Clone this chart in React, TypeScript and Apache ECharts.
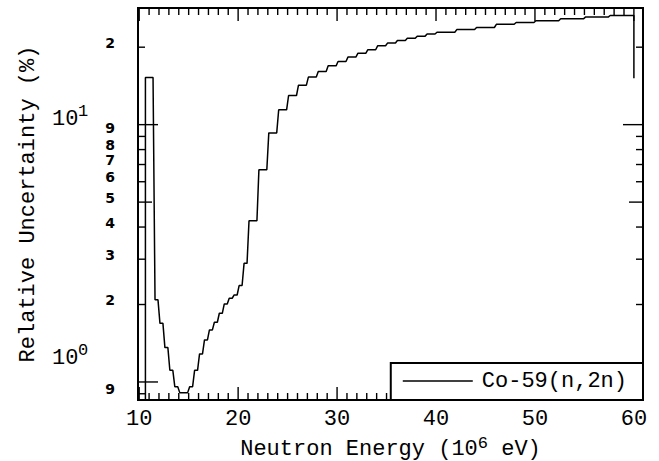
import React, { useEffect, useRef } from 'react';
import * as echarts from 'echarts';

// ---- data ----
const seriesName = 'Co-59(n,2n)';
// energy bin edges (MeV)
const binEdges = [
  10.63, 11.5, 12, 12.5, 13, 13.5, 14, 14.5, 15, 15.5, 16, 16.5, 17, 17.5, 18, 18.5, 19, 19.5, 20, 20.5,
  21, 22, 23, 24, 25, 26, 27, 28, 29, 30, 31, 32, 33, 34, 35, 36, 37, 38, 39, 40,
  42, 44, 46, 48, 50, 52.5, 55, 57.5, 60,
];
// relative uncertainty (%) per bin
const uncertainty = [
  15.24, 2.085, 1.69, 1.36, 1.11, 0.959, 0.909, 0.909, 0.959, 1.11, 1.285, 1.457, 1.593, 1.706, 1.849, 2.01,
  2.115, 2.178, 2.37, 2.89, 4.23, 6.68, 9.29, 11.42, 12.98, 14.24, 15.3, 16.09, 16.93, 17.59, 18.3, 18.93,
  19.54, 20.25, 20.75, 21.23, 21.65, 22.08, 22.5, 22.85, 23.41, 23.85, 24.55, 24.94, 25.33, 25.78, 26.18, 26.56,
];
const startValue = 0.5; // below the axis: curve rises from the bottom at threshold
const endValue = 15.16; // last point at 60 MeV

// axes
const xMin = 9.88;
const xMax = 60.92;
const yMin = 0.851;
const yMax = 28.4;
const xTickValues = Array.from({ length: 51 }, (_, i) => 10 + i);
const xMajorStep = 10;
const yTickValues = [0.9, 1, 2, 3, 4, 5, 6, 7, 8, 9, 10, 20];
const yMinorLabelValues = [0.9, 2, 3, 4, 5, 6, 7, 8, 9, 20];
const yMinorLabelTexts = ['9', '2', '3', '4', '5', '6', '7', '8', '9', '2'];
const yDecadeValues = [1, 10];
const yDecadeExponents = ['0', '1'];

const MONO = '"Liberation Mono", "DejaVu Sans Mono", monospace';
const RISER_HALF = 0.1;

function buildLine(): number[][] {
  const pts: number[][] = [[binEdges[0], startValue]];
  uncertainty.forEach((v, i) => {
    const a = i === 0 ? binEdges[0] : binEdges[i] + RISER_HALF;
    const b = i === uncertainty.length - 1 ? binEdges[i + 1] : binEdges[i + 1] - RISER_HALF;
    pts.push([a, v], [b, v]);
  });
  pts.push([binEdges[binEdges.length - 1], endValue]);
  return pts;
}

export default function App() {
  const ref = useRef<HTMLDivElement>(null);
  useEffect(() => {
    const chart = echarts.init(ref.current!, null, { renderer: 'svg' });
    const tickStyle = { stroke: '#000', lineWidth: 1.4 };
    const option: any = {
      animation: false,
      backgroundColor: '#fff',
      grid: {
        left: 138, right: 16, top: 8, bottom: 61,
        outerBoundsMode: 'none', containLabel: false,
        show: true, borderColor: '#000', borderWidth: 2, backgroundColor: 'transparent',
      },
      legend: {
        data: [{ name: seriesName, icon: 'path://M0,0 L70,0 L70,1.3 L0,1.3 Z' }],
        right: 16, bottom: 61, z: 20,
        orient: 'horizontal',
        padding: [7, 16, 8, 12],
        borderColor: '#000', borderWidth: 2, backgroundColor: '#fff',
        itemWidth: 70, itemHeight: 1.3,
        itemStyle: { color: '#000', borderWidth: 0 },
        textStyle: { fontFamily: MONO, fontSize: 22, color: '#000', padding: [0, 0, 0, 4] },
        selectedMode: false,
      },
      xAxis: {
        type: 'value', min: xMin, max: xMax, splitNumber: 5,
        axisLine: { show: false }, axisTick: { show: false }, splitLine: { show: false },
        axisLabel: {
          margin: 8, fontFamily: MONO, fontSize: 22, color: '#000',
          showMinLabel: false, showMaxLabel: false,
          formatter: (v: number) => (Math.abs(v % xMajorStep) < 1e-6 ? String(v) : ''),
        },
        name: 'Neutron Energy (10{sup|6} eV)',
        nameLocation: 'middle', nameGap: 33,
        nameTextStyle: {
          fontFamily: MONO, fontSize: 22, color: '#000', lineHeight: 24,
          rich: { sup: { fontFamily: MONO, fontSize: 17, lineHeight: 17, padding: [0, 0, 12, 0], color: '#000' } },
        },
      },
      yAxis: {
        type: 'log', logBase: 10, min: yMin, max: yMax,
        axisLine: { show: false }, axisTick: { show: false }, splitLine: { show: false },
        axisLabel: { show: false },
        name: 'Relative Uncertainty (%)',
        nameLocation: 'middle', nameRotate: 90, nameGap: 99,
        nameTextStyle: { fontFamily: MONO, fontSize: 22, color: '#000' },
      },
      series: [
        {
          name: seriesName, type: 'line', data: buildLine(),
          symbol: 'none', showSymbol: false, clip: true,
          lineStyle: { color: '#000', width: 1.5 }, itemStyle: { color: '#000' },
          z: 3,
        },
        {
          type: 'custom', silent: true, z: 5,
          data: xTickValues.map((v) => [v, yMin]),
          renderItem: (params: any, api: any) => {
            const v = api.value(0);
            const cs = params.coordSys;
            const px = api.coord([v, yMin])[0];
            const len = v % xMajorStep === 0 ? 13 : 7;
            const b = cs.y + cs.height;
            return {
              type: 'group',
              children: [
                { type: 'line', shape: { x1: px, y1: b, x2: px, y2: b - len }, style: tickStyle },
                { type: 'line', shape: { x1: px, y1: cs.y, x2: px, y2: cs.y + len }, style: tickStyle },
              ],
            };
          },
        },
        {
          type: 'custom', silent: true, z: 5,
          data: yTickValues.map((v) => [xMin, v]),
          renderItem: (params: any, api: any) => {
            const v = api.value(1);
            const cs = params.coordSys;
            const py = api.coord([xMin, v])[1];
            const len = v === 1 || v === 10 ? 20 : v === 5 ? 14 : 7;
            const r = cs.x + cs.width;
            return {
              type: 'group',
              children: [
                { type: 'line', shape: { x1: cs.x, y1: py, x2: cs.x + len, y2: py }, style: tickStyle },
                { type: 'line', shape: { x1: r, y1: py, x2: r - len, y2: py }, style: tickStyle },
              ],
            };
          },
        },
        {
          type: 'custom', silent: true, z: 5,
          data: yMinorLabelValues.map((v, i) => [xMin, v, i]),
          renderItem: (params: any, api: any) => {
            const v = api.value(1);
            const i = api.value(2);
            const cs = params.coordSys;
            const py = api.coord([xMin, v])[1];
            const raise = v === 9 ? 8 : 4.5;
            return {
              type: 'text', x: cs.x - 28, y: py - raise,
              style: {
                text: yMinorLabelTexts[i], fill: '#000',
                font: 'bold 14px "DejaVu Sans", sans-serif',
                align: 'center', verticalAlign: 'middle',
              },
            };
          },
        },
        {
          type: 'custom', silent: true, z: 5,
          data: yDecadeValues.map((v, i) => [xMin, v, i]),
          renderItem: (params: any, api: any) => {
            const v = api.value(1);
            const i = api.value(2);
            const cs = params.coordSys;
            const py = api.coord([xMin, v])[1];
            const cy = py - (v === 1 ? 23 : 5);
            return {
              type: 'group',
              children: [
                {
                  type: 'text', x: cs.x - 59.5, y: cy,
                  style: { text: '10', fill: '#000', font: `22px ${MONO}`, align: 'right', verticalAlign: 'middle' },
                },
                {
                  type: 'text', x: cs.x - 60, y: cy - 8,
                  style: { text: yDecadeExponents[i], fill: '#000', font: `17px ${MONO}`, align: 'left', verticalAlign: 'middle' },
                },
              ],
            };
          },
        },
      ],
    };
    chart.setOption(option);
    return () => chart.dispose();
  }, []);
  return <div ref={ref} style={{ position: 'fixed', left: 0, top: 0, width: 659, height: 461 }} />;
}
